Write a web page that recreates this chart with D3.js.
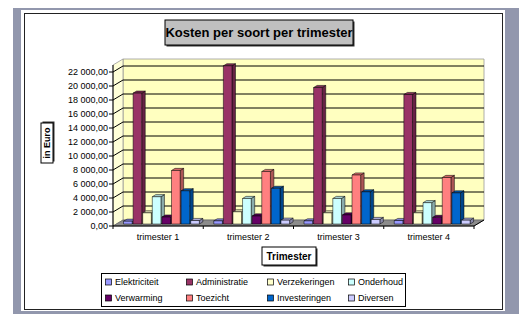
<!DOCTYPE html>
<html><head><meta charset="utf-8">
<script src="https://cdn.jsdelivr.net/npm/d3@7"></script>
<style>body{margin:0;background:#fff}svg{display:block}text{font-family:"Liberation Sans",Arial,sans-serif}</style>
</head><body><svg id="c" width="532" height="326"></svg>
<script>
const categories = ["trimester 1","trimester 2","trimester 3","trimester 4"];
const seriesNames = ["Elektriciteit","Administratie","Verzekeringen","Onderhoud","Verwarming","Toezicht","Investeringen","Diversen"];
const seriesColors = ["#9999FF","#993366","#FFFFCC","#CCFFFF","#660066","#FF8080","#0066CC","#CCCCFF"];
const elektriciteit = [400, 450, 450, 500];
const administratie = [18700, 22600, 19500, 18500];
const verzekeringen = [1600, 1750, 1600, 1600];
const onderhoud = [3900, 3650, 3650, 3050];
const verwarming = [1000, 1150, 1300, 950];
const toezicht = [7650, 7500, 7000, 6650];
const investeringen = [4750, 5100, 4600, 4450];
const diversen = [500, 550, 650, 550];
const yTicks = [0,2000,4000,6000,8000,10000,12000,14000,16000,18000,20000,22000];
const yMax = 23000;
const seriesValues = [elektriciteit, administratie, verzekeringen, onderhoud, verwarming, toezicht, investeringen, diversen];

const svg = d3.select("#c");
// frame
svg.append("rect").attr("x",13).attr("y",8).attr("width",506).attr("height",306).attr("fill","#9297ad");
svg.append("rect").attr("x",21).attr("y",10).attr("width",484).attr("height",301).attr("fill","#fff");
svg.append("rect").attr("x",24.5).attr("y",13.5).attr("width",478).attr("height",296).attr("fill","#fff").attr("stroke","#222").attr("stroke-width",1);

// geometry
const fx0 = 113, fx1 = 474;
const DX = 10, DY = -6;
const x0 = d3.scaleBand().domain(categories).range([fx0, fx1]);
const x1 = d3.scaleBand().domain(seriesNames).range([0, x0.bandwidth()]).paddingInner(0.1).paddingOuter(0.75);
const y = d3.scaleLinear().domain([0, yMax]).range([226, 65]);
const color = d3.scaleOrdinal().domain(seriesNames).range(seriesColors);
const nf = d3.formatLocale({decimal:",", thousands:" ", grouping:[3], currency:["",""]}).format(",.2f");

const g = svg.append("g");
// back wall
g.append("polygon").attr("points", [[fx0+DX, y(yMax)+DY],[fx1+DX, y(yMax)+DY],[fx1+DX, y(0)+DY],[fx0+DX, y(0)+DY]].join(" "))
 .attr("fill","#ffffc0").attr("stroke","#9a9a9a").attr("stroke-width",0.8);
// side wall
g.append("polygon").attr("points", [[fx0, y(yMax)],[fx0+DX, y(yMax)+DY],[fx0+DX, y(0)+DY],[fx0, y(0)]].join(" "))
 .attr("fill","#ffffd8").attr("stroke","#9a9a9a").attr("stroke-width",0.8);
// floor
g.append("polygon").attr("points", [[fx0, y(0)],[fx1, y(0)],[fx1+DX, y(0)+DY],[fx0+DX, y(0)+DY]].join(" "))
 .attr("fill","#8c8c8c").attr("stroke","#555").attr("stroke-width",0.6);
// gridlines
yTicks.forEach(t => {
  if (t === 0) return;
  const yy = y(t);
  g.append("polyline").attr("points", [[fx0, yy],[fx0+DX, yy+DY],[fx1+DX, yy+DY]].join(" "))
   .attr("fill","none").attr("stroke","#000").attr("stroke-width",1);
});
// y axis
g.append("line").attr("x1",fx0).attr("x2",fx0).attr("y1",y(yMax)).attr("y2",y(0)).attr("stroke","#000");
yTicks.forEach(t => {
  g.append("line").attr("x1",fx0-4).attr("x2",fx0).attr("y1",y(t)).attr("y2",y(t)).attr("stroke","#000");
  g.append("text").attr("x",fx0-5).attr("y",y(t)).attr("dy","0.35em").attr("text-anchor","end")
   .attr("font-size","9px").attr("fill","#000").text(nf(t));
});

// bars
const T0 = 0.33, T1 = 0.68;
const bx = DX*(T1-T0), by = DY*(T1-T0);
categories.forEach((cat, ci) => {
  seriesNames.forEach((s, si) => {
    const v = seriesValues[si][ci];
    const xl = x0(cat) + x1(s) + DX*T0;
    const w = x1.bandwidth();
    const yt = y(v) + DY*T0, yb = y(0) + DY*T0;
    const c = d3.color(color(s));
    const bg = g.append("g").attr("stroke","#000").attr("stroke-width",0.5).attr("stroke-linejoin","round");
    bg.append("polygon").attr("points", [[xl+w, yt],[xl+w+bx, yt+by],[xl+w+bx, yb+by],[xl+w, yb]].join(" "))
      .attr("fill", c.darker(1.1));
    bg.append("polygon").attr("points", [[xl, yt],[xl+w, yt],[xl+w+bx, yt+by],[xl+bx, yt+by]].join(" "))
      .attr("fill", c.darker(0.5));
    bg.append("rect").attr("x",xl).attr("y",yt).attr("width",w).attr("height",yb-yt).attr("fill", c.formatHex());
  });
});

// x axis
g.append("line").attr("x1",fx0).attr("x2",fx1).attr("y1",y(0)).attr("y2",y(0)).attr("stroke","#000");
g.append("line").attr("x1",fx1).attr("x2",fx1+DX).attr("y1",y(0)).attr("y2",y(0)+DY).attr("stroke","#000");
categories.forEach((cat, i) => {
  const xb = x0(cat);
  g.append("line").attr("x1",xb).attr("x2",xb).attr("y1",y(0)).attr("y2",y(0)+3).attr("stroke","#000");
  g.append("text").attr("x", xb + x0.bandwidth()/2).attr("y", 240).attr("text-anchor","middle")
   .attr("font-size","9px").text(cat);
});
g.append("line").attr("x1",fx1).attr("x2",fx1).attr("y1",y(0)).attr("y2",y(0)+3).attr("stroke","#000");

// title
function boxLabel(cx, cy, w, h, txt, size, fill, rot) {
  const gg = svg.append("g").attr("transform", `translate(${cx},${cy})` + (rot ? ` rotate(${rot})` : ""));
  gg.append("rect").attr("x",-w/2+1.5).attr("y",-h/2+1.5).attr("width",w).attr("height",h).attr("fill","#333");
  gg.append("rect").attr("x",-w/2).attr("y",-h/2).attr("width",w).attr("height",h).attr("fill",fill).attr("stroke","#000").attr("stroke-width",1);
  gg.append("text").attr("x",0).attr("y",0).attr("dy","0.36em").attr("text-anchor","middle")
    .attr("font-weight","bold").attr("font-size",size).text(txt);
}
boxLabel(259, 32.5, 188, 25, "Kosten per soort per trimester", "13px", "#c0c0c0", 0);
boxLabel(47, 143, 40, 12, "in Euro", "9px", "#fff", -90);
boxLabel(289, 256, 54, 18, "Trimester", "10px", "#fff", 0);

// legend
const lg = svg.append("g");
lg.append("rect").attr("x",101.5).attr("y",273.5).attr("width",304).attr("height",33).attr("fill","#fff").attr("stroke","#000");
const colX = [105, 186, 267, 348], rowY = [282, 298];
seriesNames.forEach((s, i) => {
  const cx = colX[i % 4], cy = rowY[Math.floor(i / 4)];
  lg.append("rect").attr("x",cx+0.5).attr("y",cy-3).attr("width",6).attr("height",6).attr("fill",color(s)).attr("stroke","#000").attr("stroke-width",0.7);
  lg.append("text").attr("x",cx+10).attr("y",cy).attr("dy","0.35em").attr("font-size","9px").text(s);
});
</script></body></html>
